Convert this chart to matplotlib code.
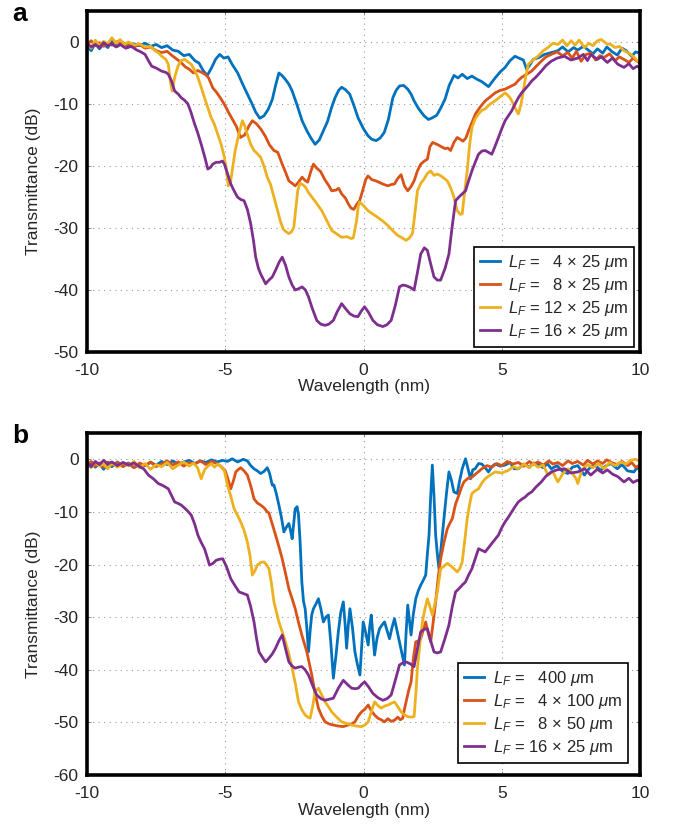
import matplotlib
matplotlib.use("Agg")
import matplotlib.pyplot as plt
import numpy as np

plt.rcParams["font.family"] = ["Liberation Sans", "DejaVu Sans"]
plt.rcParams["mathtext.fontset"] = "custom"
plt.rcParams["mathtext.rm"] = "Liberation Sans"
plt.rcParams["mathtext.it"] = "Liberation Sans:italic"

# (wavelength nm, transmittance dB)
a_4x25 = [(-10, -0.6), (-9.85, -1.4), (-9.7, -0.2), (-9.55, -1.1), (-9.4, -0.3), (-9.25, -0.9), (-9.1, 0.2),
          (-8.9, -0.7), (-8.7, -0.1), (-8.5, -0.8), (-8.3, -0.3), (-8.1, -0.6), (-7.9, -0.2), (-7.7, -0.7),
          (-7.5, -0.4), (-7.3, -0.9), (-7.1, -0.6), (-6.9, -1.3), (-6.7, -1.5), (-6.5, -2.2), (-6.3, -2.0),
          (-6.1, -3.0), (-5.95, -3.4), (-5.8, -4.6), (-5.65, -5.4), (-5.5, -4.2), (-5.35, -2.8), (-5.2, -2.0),
          (-5.05, -2.6), (-4.9, -2.4), (-4.75, -3.6), (-4.55, -5.0), (-4.35, -7.0), (-4.2, -8.4), (-4.05, -9.8),
          (-3.9, -11.3), (-3.75, -12.3), (-3.6, -11.9), (-3.45, -10.9), (-3.3, -9.3), (-3.18, -7.0), (-3.06, -5.0),
          (-2.95, -5.4), (-2.83, -6.0), (-2.7, -6.8), (-2.58, -7.9), (-2.4, -10.2), (-2.22, -12.7), (-2.05, -14.3),
          (-1.9, -15.5), (-1.75, -16.5), (-1.6, -15.8), (-1.45, -14.3), (-1.3, -12.8), (-1.15, -10.5), (-1.03, -9.0),
          (-0.9, -7.8), (-0.79, -7.3), (-0.65, -7.7), (-0.5, -8.4), (-0.35, -10.2), (-0.2, -12.2), (0.0, -14.0),
          (0.16, -15.1), (0.3, -15.7), (0.46, -15.9), (0.6, -15.5), (0.75, -14.6), (0.9, -12.5), (1.06, -9.0),
          (1.18, -7.8), (1.3, -7.1), (1.45, -7.0), (1.6, -7.6), (1.72, -8.4), (1.83, -9.5), (2.0, -10.8),
          (2.19, -11.9), (2.35, -12.5), (2.5, -12.2), (2.65, -11.8), (2.8, -10.6), (2.95, -9.2), (3.1, -7.0),
          (3.27, -5.4), (3.42, -5.8), (3.57, -5.2), (3.75, -5.9), (3.92, -5.5), (4.1, -6.0), (4.28, -6.4),
          (4.4, -6.8), (4.52, -7.2), (4.64, -6.5), (4.76, -5.8), (4.95, -4.8), (5.12, -4.1), (5.3, -3.0),
          (5.48, -2.3), (5.62, -2.6), (5.78, -2.9), (5.9, -4.4), (6.0, -3.8), (6.14, -2.8), (6.35, -2.5),
          (6.55, -2.0), (6.8, -1.7), (7.03, -1.4), (7.2, -0.8), (7.4, -1.6), (7.6, -0.9), (7.75, -1.3),
          (7.95, -0.7), (8.1, -1.2), (8.3, -1.9), (8.46, -1.1), (8.65, -1.8), (8.8, -0.8), (9.0, -1.6),
          (9.18, -2.1), (9.35, -1.0), (9.5, -1.4), (9.7, -2.3), (9.84, -1.6), (10, -1.8)]

a_8x25 = [(-10, -0.4), (-9.85, 0.2), (-9.7, -0.6), (-9.55, -0.1), (-9.4, -0.7), (-9.25, -0.2), (-9.1, -0.5),
          (-8.9, 0.1), (-8.7, -0.6), (-8.5, -0.3), (-8.3, -0.8), (-8.1, -0.4), (-7.9, -1.0), (-7.7, -0.8),
          (-7.5, -1.4), (-7.3, -1.7), (-7.1, -1.5), (-6.95, -2.1), (-6.8, -2.6), (-6.6, -3.3), (-6.45, -4.0),
          (-6.3, -4.4), (-6.15, -5.0), (-6.0, -4.6), (-5.85, -4.9), (-5.7, -5.3), (-5.6, -5.8), (-5.45, -7.4),
          (-5.3, -8.2), (-5.15, -9.2), (-5.0, -10.3), (-4.9, -11.2), (-4.75, -12.4), (-4.6, -13.6), (-4.45, -15.4),
          (-4.3, -15.0), (-4.15, -13.6), (-4.02, -12.7), (-3.87, -13.2), (-3.72, -14.0), (-3.55, -15.2),
          (-3.4, -16.6), (-3.24, -17.5), (-3.1, -17.8), (-2.94, -19.7), (-2.82, -21.0), (-2.7, -22.4),
          (-2.58, -22.8), (-2.47, -23.2), (-2.35, -22.6), (-2.22, -21.8), (-2.12, -22.3), (-2.02, -22.6),
          (-1.9, -20.8), (-1.81, -19.7), (-1.7, -20.3), (-1.55, -20.9), (-1.4, -22.2), (-1.25, -23.2),
          (-1.15, -24.0), (-1.0, -23.9), (-0.9, -23.6), (-0.79, -24.5), (-0.65, -25.2), (-0.55, -26.1),
          (-0.45, -26.8), (-0.35, -27.0), (-0.25, -26.2), (-0.14, -25.6), (-0.02, -23.8), (0.08, -22.2),
          (0.16, -21.6), (0.3, -22.2), (0.45, -22.4), (0.6, -22.7), (0.75, -23.0), (0.88, -23.2), (1.0, -23.0),
          (1.12, -22.9), (1.24, -22.0), (1.36, -21.4), (1.48, -23.2), (1.6, -24.0), (1.72, -23.3), (1.83, -22.4),
          (1.95, -20.8), (2.07, -19.7), (2.2, -19.2), (2.31, -18.9), (2.4, -16.9), (2.5, -16.2), (2.6, -16.4),
          (2.7, -16.6), (2.82, -16.9), (2.95, -17.2), (3.05, -17.1), (3.15, -17.5), (3.27, -16.2), (3.39, -15.4),
          (3.5, -15.7), (3.6, -16.0), (3.7, -15.5), (3.8, -14.3), (3.92, -13.0), (4.05, -11.6), (4.2, -10.6),
          (4.4, -9.5), (4.6, -8.8), (4.76, -8.2), (4.95, -7.8), (5.12, -7.6), (5.3, -7.2), (5.48, -6.8),
          (5.6, -6.2), (5.72, -5.7), (5.9, -5.2), (6.08, -4.7), (6.25, -3.9), (6.43, -3.1), (6.6, -2.4),
          (6.79, -2.0), (7.0, -1.6), (7.2, -2.2), (7.39, -1.7), (7.55, -2.6), (7.7, -1.5), (7.87, -3.1),
          (8.05, -2.0), (8.22, -1.8), (8.4, -2.9), (8.55, -2.2), (8.7, -2.5), (8.9, -1.9), (9.1, -3.0),
          (9.25, -2.4), (9.42, -2.8), (9.6, -3.3), (9.75, -2.6), (9.9, -3.1), (10, -3.4)]

a_12x25 = [(-10, -0.2), (-9.85, -1.0), (-9.7, 0.3), (-9.55, -0.6), (-9.4, 0.1), (-9.25, -0.3), (-9.1, 0.7),
           (-8.95, -0.2), (-8.8, 0.4), (-8.65, -0.4), (-8.5, 0.0), (-8.3, -0.5), (-8.1, -0.3), (-7.9, -0.8),
           (-7.7, -0.7), (-7.54, -1.4), (-7.4, -1.8), (-7.3, -2.3), (-7.15, -2.8), (-7.06, -3.6), (-6.98, -6.5),
           (-6.92, -7.9), (-6.83, -5.7), (-6.71, -3.9), (-6.6, -3.0), (-6.47, -2.8), (-6.35, -3.2), (-6.23, -3.6),
           (-6.1, -4.6), (-5.99, -5.7), (-5.87, -7.3), (-5.75, -9.0), (-5.63, -10.6), (-5.51, -12.2),
           (-5.4, -13.2), (-5.27, -14.9), (-5.15, -16.5), (-5.03, -18.6), (-4.95, -21.0), (-4.89, -23.2),
           (-4.81, -22.6), (-4.73, -20.2), (-4.64, -17.5), (-4.56, -15.9), (-4.47, -14.2), (-4.38, -12.7),
           (-4.3, -13.5), (-4.2, -14.9), (-4.08, -16.5), (-3.96, -17.5), (-3.84, -18.0), (-3.72, -18.6),
           (-3.6, -20.0), (-3.48, -21.8), (-3.36, -23.0), (-3.24, -25.0), (-3.12, -27.0), (-3.0, -29.0),
           (-2.9, -30.2), (-2.8, -30.6), (-2.7, -30.9), (-2.6, -30.6), (-2.52, -29.9), (-2.45, -27.0),
           (-2.38, -24.0), (-2.3, -22.8), (-2.2, -23.0), (-2.1, -23.4), (-2.0, -24.2), (-1.87, -25.0),
           (-1.7, -26.0), (-1.51, -27.2), (-1.35, -28.6), (-1.15, -30.4), (-0.95, -31.0), (-0.79, -31.5),
           (-0.6, -31.4), (-0.45, -31.7), (-0.37, -31.6), (-0.3, -30.0), (-0.25, -28.8), (-0.19, -26.5),
           (-0.14, -25.8), (0.0, -26.4), (0.16, -27.2), (0.35, -27.8), (0.52, -28.3), (0.7, -28.9), (0.88, -29.6),
           (1.05, -30.4), (1.24, -31.2), (1.4, -31.6), (1.54, -32.0), (1.66, -31.6), (1.77, -30.9), (1.85, -28.0),
           (1.95, -24.0), (2.07, -22.8), (2.19, -22.1), (2.31, -21.2), (2.43, -20.8), (2.55, -21.5), (2.67, -21.3),
           (2.8, -21.6), (2.92, -22.0), (3.03, -22.4), (3.15, -23.5), (3.27, -25.0), (3.39, -27.2), (3.5, -27.8),
           (3.57, -27.7), (3.65, -24.5), (3.75, -20.8), (3.84, -16.5), (3.92, -13.8), (4.04, -12.4),
           (4.16, -11.6), (4.28, -11.0), (4.4, -10.8), (4.58, -10.0), (4.76, -9.5), (4.95, -8.8), (5.12, -8.2),
           (5.22, -8.6), (5.3, -9.0), (5.4, -9.8), (5.48, -10.6), (5.6, -11.6), (5.7, -10.0), (5.78, -7.9),
           (5.87, -5.5), (5.96, -3.6), (6.1, -3.0), (6.31, -2.3), (6.5, -1.4), (6.67, -0.9), (6.85, -0.2),
           (7.03, -0.4), (7.2, 0.3), (7.35, -0.6), (7.51, 0.2), (7.65, -0.5), (7.8, 0.3), (7.99, -0.9),
           (8.15, -0.2), (8.3, -0.6), (8.46, 0.2), (8.6, 0.4), (8.8, -0.3), (8.94, -0.4), (9.1, -0.9),
           (9.25, -0.7), (9.42, -1.4), (9.6, -1.8), (9.75, -2.3), (9.9, -3.0), (10, -3.2)]

a_16x25 = [(-10, -0.2), (-9.85, -0.8), (-9.7, -0.4), (-9.55, -0.9), (-9.4, -0.1), (-9.25, -0.6), (-9.1, -0.3),
           (-8.95, -0.8), (-8.8, -0.4), (-8.6, -1.0), (-8.4, -0.7), (-8.2, -1.3), (-8.05, -1.6), (-7.9, -2.0),
           (-7.78, -3.0), (-7.66, -3.9), (-7.5, -4.2), (-7.3, -4.7), (-7.15, -4.9), (-7.06, -5.2), (-6.95, -6.2),
           (-6.83, -7.9), (-6.7, -8.4), (-6.59, -9.0), (-6.47, -9.4), (-6.35, -10.0), (-6.25, -11.2),
           (-6.11, -13.2), (-6.0, -14.6), (-5.87, -16.5), (-5.75, -18.4), (-5.63, -20.5), (-5.53, -20.2),
           (-5.45, -19.7), (-5.33, -19.4), (-5.21, -19.4), (-5.1, -19.2), (-5.03, -19.7), (-4.92, -21.2),
           (-4.8, -22.9), (-4.68, -24.0), (-4.56, -25.0), (-4.44, -25.4), (-4.32, -25.6), (-4.2, -27.0),
           (-4.08, -29.3), (-3.98, -32.0), (-3.9, -34.7), (-3.8, -36.5), (-3.72, -37.4), (-3.62, -38.3),
           (-3.54, -39.0), (-3.42, -38.4), (-3.3, -37.9), (-3.18, -36.8), (-3.05, -35.5), (-2.94, -34.7),
           (-2.82, -36.0), (-2.7, -37.9), (-2.58, -39.2), (-2.47, -40.0), (-2.35, -39.8), (-2.22, -39.5),
           (-2.1, -40.0), (-1.99, -41.1), (-1.85, -43.0), (-1.69, -44.9), (-1.55, -45.5), (-1.39, -45.7),
           (-1.25, -45.5), (-1.09, -44.9), (-0.95, -43.5), (-0.79, -42.2), (-0.65, -43.0), (-0.5, -43.8),
           (-0.35, -44.2), (-0.2, -44.3), (-0.08, -43.4), (0.04, -42.7), (0.18, -43.6), (0.34, -44.9),
           (0.5, -45.6), (0.7, -45.9), (0.85, -45.6), (1.0, -44.9), (1.15, -42.5), (1.3, -39.5), (1.42, -39.2),
           (1.54, -39.3), (1.7, -39.6), (1.83, -40.0), (1.95, -37.2), (2.07, -34.2), (2.2, -33.2), (2.31, -33.6),
           (2.43, -35.8), (2.55, -37.9), (2.67, -38.4), (2.79, -38.4), (2.95, -36.5), (3.09, -34.2),
           (3.2, -30.0), (3.33, -25.6), (3.45, -25.0), (3.57, -24.5), (3.69, -24.0), (3.8, -22.4), (3.92, -20.8),
           (4.04, -19.4), (4.16, -18.1), (4.28, -17.6), (4.4, -17.5), (4.52, -17.8), (4.64, -18.1), (4.76, -16.8),
           (4.88, -15.4), (5.0, -14.0), (5.12, -12.7), (5.24, -11.9), (5.36, -11.1), (5.48, -10.0), (5.6, -9.0),
           (5.72, -8.2), (5.84, -7.6), (5.96, -7.0), (6.08, -6.3), (6.25, -5.6), (6.43, -4.7), (6.6, -3.8),
           (6.79, -3.1), (7.0, -2.6), (7.27, -2.3), (7.5, -2.9), (7.75, -2.6), (7.95, -2.0), (8.1, -3.0),
           (8.22, -2.0), (8.45, -2.8), (8.6, -2.4), (8.82, -3.3), (9.0, -2.6), (9.2, -3.6), (9.42, -4.1),
           (9.6, -3.5), (9.75, -4.3), (9.9, -3.9), (10, -4.2)]

b_400 = [(-10, -1.6), (-9.85, -0.6), (-9.7, -1.5), (-9.55, -0.8), (-9.4, -1.9), (-9.25, -0.9), (-9.1, -1.4),
         (-8.9, -0.5), (-8.7, -1.3), (-8.5, -0.7), (-8.3, -1.6), (-8.1, -0.9), (-7.9, -1.2), (-7.7, -0.6),
         (-7.5, -1.1), (-7.3, -0.4), (-7.1, -1.0), (-6.9, -0.3), (-6.7, -0.9), (-6.5, -0.5), (-6.3, -0.2),
         (-6.1, -0.8), (-5.9, -0.3), (-5.7, -0.6), (-5.5, -0.1), (-5.3, -0.5), (-5.1, -0.2), (-4.92, -0.4),
         (-4.75, 0.1), (-4.55, -0.5), (-4.35, 0.0), (-4.2, -0.3), (-4.08, -1.2), (-3.96, -1.8), (-3.84, -2.2),
         (-3.72, -2.7), (-3.6, -2.3), (-3.48, -1.6), (-3.4, -2.6), (-3.3, -4.9), (-3.24, -4.9), (-3.15, -6.6),
         (-3.06, -8.7), (-2.97, -11.0), (-2.88, -13.8), (-2.8, -13.0), (-2.7, -12.2), (-2.64, -13.5),
         (-2.58, -15.1), (-2.52, -12.0), (-2.47, -9.4), (-2.4, -9.0), (-2.35, -10.6), (-2.29, -16.0),
         (-2.23, -23.3), (-2.17, -27.0), (-2.11, -28.4), (-2.05, -32.0), (-1.99, -36.6), (-1.92, -32.0),
         (-1.87, -29.5), (-1.81, -28.4), (-1.72, -27.5), (-1.63, -26.5), (-1.54, -28.5), (-1.45, -30.9),
         (-1.36, -30.0), (-1.27, -29.6), (-1.18, -35.0), (-1.09, -41.6), (-1.0, -37.5), (-0.91, -32.8),
         (-0.82, -29.0), (-0.73, -27.1), (-0.67, -31.0), (-0.61, -35.9), (-0.55, -31.5), (-0.49, -28.4),
         (-0.4, -32.0), (-0.31, -36.6), (-0.22, -39.0), (-0.13, -41.0), (-0.07, -36.0), (-0.01, -30.9),
         (0.08, -33.0), (0.17, -35.3), (0.22, -32.0), (0.28, -29.6), (0.34, -33.5), (0.4, -37.2), (0.49, -34.0),
         (0.58, -32.2), (0.67, -31.5), (0.76, -30.9), (0.85, -32.5), (0.94, -34.1), (1.03, -32.0), (1.12, -30.3),
         (1.21, -32.5), (1.3, -34.7), (1.39, -37.0), (1.48, -39.1), (1.54, -33.0), (1.6, -27.7), (1.66, -30.5),
         (1.72, -33.4), (1.8, -29.5), (1.89, -26.5), (1.98, -25.0), (2.07, -23.9), (2.16, -23.0), (2.25, -22.0),
         (2.31, -18.0), (2.37, -14.4), (2.43, -7.0), (2.49, -1.1), (2.55, -7.0), (2.61, -14.4), (2.67, -18.0),
         (2.73, -20.8), (2.82, -16.0), (2.91, -11.3), (3.0, -6.5), (3.09, -2.4), (3.18, -4.0), (3.27, -6.2),
         (3.39, -6.5), (3.48, -4.0), (3.57, -1.8), (3.69, 0.1), (3.78, -1.8), (3.87, -3.7), (3.95, -2.0),
         (4.04, -1.8), (4.16, -0.8), (4.28, -0.9), (4.4, -1.6), (4.52, -2.4), (4.64, -1.4), (4.76, -0.9),
         (4.95, -1.3), (5.12, -1.1), (5.3, -0.6), (5.45, -1.8), (5.6, -1.8), (5.8, -0.9), (6.0, -1.5),
         (6.15, -0.7), (6.31, -0.9), (6.5, -1.6), (6.65, -0.8), (6.79, -1.8), (7.0, -1.2), (7.2, -2.3),
         (7.39, -2.7), (7.55, -1.5), (7.75, -1.2), (7.99, -3.0), (8.15, -1.8), (8.35, -1.0), (8.58, -2.1),
         (8.75, -1.3), (8.95, -0.8), (9.18, -1.8), (9.35, -1.0), (9.55, -2.2), (9.78, -2.4), (9.9, -1.5),
         (10, -2.2)]

b_4x100 = [(-10, -1.0), (-9.85, -0.4), (-9.7, -1.3), (-9.55, -0.7), (-9.4, -1.5), (-9.25, -0.5), (-9.1, -1.1),
           (-8.9, -0.6), (-8.7, -1.4), (-8.5, -0.8), (-8.3, -1.6), (-8.1, -0.7), (-7.9, -1.2), (-7.7, -0.5),
           (-7.5, -1.4), (-7.3, -0.9), (-7.1, -0.3), (-6.9, -1.1), (-6.7, -0.5), (-6.5, -1.3), (-6.3, -0.6),
           (-6.1, -0.9), (-5.9, -0.3), (-5.7, -1.0), (-5.5, -0.4), (-5.3, -0.8), (-5.15, -1.4), (-5.0, -2.2),
           (-4.9, -3.8), (-4.8, -5.6), (-4.7, -4.0), (-4.62, -2.4), (-4.52, -1.9), (-4.44, -1.6), (-4.32, -2.2),
           (-4.2, -3.0), (-4.08, -5.0), (-3.96, -7.5), (-3.84, -8.3), (-3.72, -8.7), (-3.6, -9.2), (-3.48, -10.0),
           (-3.42, -10.2), (-3.3, -12.3), (-3.18, -14.4), (-3.06, -16.6), (-2.94, -18.9), (-2.82, -21.7),
           (-2.7, -24.6), (-2.58, -26.5), (-2.47, -28.4), (-2.35, -31.0), (-2.23, -33.4), (-2.14, -35.0),
           (-2.05, -36.6), (-1.96, -38.8), (-1.87, -41.0), (-1.75, -44.5), (-1.63, -47.3), (-1.51, -48.8),
           (-1.39, -49.9), (-1.24, -50.3), (-1.09, -50.5), (-0.91, -50.7), (-0.73, -50.8), (-0.55, -50.5),
           (-0.43, -50.3), (-0.31, -49.9), (-0.19, -48.8), (-0.07, -48.0), (0.05, -47.5), (0.17, -46.7),
           (0.28, -47.8), (0.4, -48.6), (0.52, -49.2), (0.64, -49.5), (0.76, -49.9), (0.88, -49.3), (1.0, -49.8),
           (1.12, -49.6), (1.24, -49.0), (1.33, -49.5), (1.42, -49.2), (1.48, -47.5), (1.54, -46.1),
           (1.63, -44.0), (1.72, -42.3), (1.8, -38.0), (1.89, -34.7), (1.98, -34.5), (2.07, -34.1),
           (2.16, -32.5), (2.25, -30.9), (2.34, -33.0), (2.43, -34.7), (2.52, -31.0), (2.61, -27.1),
           (2.7, -22.5), (2.79, -18.9), (2.91, -15.8), (3.03, -13.2), (3.12, -12.2), (3.21, -11.3), (3.33, -8.5),
           (3.45, -6.8), (3.54, -5.4), (3.63, -4.3), (3.78, -3.6), (3.92, -3.4), (4.1, -2.6), (4.28, -1.8),
           (4.46, -1.2), (4.64, -1.5), (4.82, -0.8), (5.0, -1.2), (5.2, -0.4), (5.4, -0.9), (5.6, -0.6),
           (5.8, -1.3), (6.0, -0.4), (6.15, -1.0), (6.31, -0.5), (6.5, -1.1), (6.7, -0.3), (6.85, -0.9),
           (7.03, -0.6), (7.2, -1.2), (7.4, -0.3), (7.55, -0.8), (7.75, -0.4), (7.95, -1.1), (8.1, -0.2),
           (8.3, -0.9), (8.46, -0.3), (8.65, -0.8), (8.8, -0.1), (9.0, -0.7), (9.18, -1.0), (9.35, -0.4),
           (9.55, -1.2), (9.7, -0.6), (9.84, -1.5), (10, -1.1)]

b_8x50 = [(-10, -0.8), (-9.85, -1.6), (-9.7, -0.5), (-9.55, -1.3), (-9.4, -0.9), (-9.25, -1.8), (-9.1, -0.7),
          (-8.9, -1.5), (-8.7, -0.6), (-8.5, -1.2), (-8.3, -0.4), (-8.1, -1.6), (-7.9, -0.8), (-7.7, -1.9),
          (-7.5, -1.0), (-7.3, -1.4), (-7.1, -0.6), (-6.9, -1.8), (-6.7, -1.1), (-6.5, -0.5), (-6.3, -1.3),
          (-6.15, -0.7), (-6.0, -1.6), (-5.87, -3.7), (-5.75, -2.0), (-5.63, -1.3), (-5.5, -0.8), (-5.39, -1.5),
          (-5.27, -0.9), (-5.15, -1.4), (-5.03, -2.2), (-4.92, -4.9), (-4.8, -7.0), (-4.68, -9.4), (-4.56, -10.6),
          (-4.44, -11.9), (-4.32, -13.5), (-4.2, -15.7), (-4.1, -18.5), (-4.02, -22.0), (-3.93, -21.2),
          (-3.84, -20.1), (-3.72, -19.6), (-3.6, -19.5), (-3.51, -20.0), (-3.42, -20.8), (-3.33, -23.5),
          (-3.24, -27.1), (-3.15, -29.0), (-3.06, -30.9), (-2.94, -32.8), (-2.82, -34.7), (-2.7, -37.0),
          (-2.58, -39.7), (-2.46, -42.8), (-2.35, -46.1), (-2.23, -47.6), (-2.11, -48.6), (-2.02, -49.0),
          (-1.93, -49.2), (-1.84, -47.0), (-1.75, -44.2), (-1.63, -43.5), (-1.51, -44.8), (-1.39, -46.1),
          (-1.27, -47.0), (-1.15, -48.0), (-0.97, -49.0), (-0.79, -49.9), (-0.61, -50.2), (-0.43, -50.5),
          (-0.25, -50.7), (-0.07, -50.8), (0.05, -50.5), (0.17, -49.9), (0.28, -48.0), (0.4, -46.1),
          (0.52, -46.8), (0.64, -47.3), (0.76, -46.9), (0.88, -46.7), (1.0, -46.4), (1.12, -46.1), (1.24, -47.0),
          (1.36, -48.0), (1.48, -48.6), (1.6, -48.9), (1.72, -49.0), (1.83, -48.9), (1.9, -44.0), (1.95, -39.7),
          (2.04, -35.0), (2.13, -30.9), (2.22, -28.5), (2.31, -26.5), (2.4, -28.0), (2.49, -29.6), (2.58, -27.5),
          (2.67, -25.2), (2.73, -23.0), (2.79, -20.8), (2.91, -20.3), (3.03, -19.8), (3.15, -20.2),
          (3.27, -20.8), (3.39, -21.4), (3.48, -20.8), (3.57, -19.5), (3.66, -15.5), (3.75, -11.3), (3.84, -8.5),
          (3.92, -6.5), (4.04, -6.0), (4.16, -5.6), (4.28, -4.5), (4.4, -3.7), (4.58, -3.0), (4.76, -2.4),
          (5.0, -2.6), (5.24, -2.1), (5.42, -1.4), (5.6, -1.8), (5.8, -0.9), (6.0, -1.6), (6.15, -0.8),
          (6.31, -1.5), (6.5, -1.1), (6.67, -3.0), (6.85, -2.4), (7.03, -4.3), (7.2, -2.8), (7.39, -1.8),
          (7.55, -2.6), (7.7, -3.8), (7.75, -4.6), (7.9, -2.0), (8.11, -1.0), (8.3, -1.6), (8.5, -0.8),
          (8.7, -1.8), (8.9, -0.6), (9.1, -1.2), (9.3, -0.5), (9.5, -0.9), (9.65, -0.2), (9.84, 0.0), (10, -0.4)]

b_16x25 = [(-10, -0.6), (-9.85, -1.4), (-9.7, -0.4), (-9.55, -1.0), (-9.4, -0.2), (-9.25, -0.9), (-9.1, -0.5),
           (-8.9, -1.2), (-8.7, -0.6), (-8.5, -1.1), (-8.3, -0.7), (-8.1, -1.4), (-7.95, -1.8), (-7.78, -3.0),
           (-7.6, -3.7), (-7.42, -4.6), (-7.25, -5.0), (-7.06, -5.6), (-6.95, -6.8), (-6.83, -8.1), (-6.7, -8.4),
           (-6.59, -8.7), (-6.4, -9.6), (-6.23, -10.6), (-6.1, -12.4), (-5.99, -14.4), (-5.87, -15.8),
           (-5.75, -17.0), (-5.66, -18.5), (-5.57, -20.1), (-5.45, -19.8), (-5.33, -19.2), (-5.21, -19.0),
           (-5.09, -18.9), (-4.95, -20.5), (-4.8, -22.7), (-4.65, -24.0), (-4.5, -25.2), (-4.35, -25.5),
           (-4.2, -25.8), (-4.08, -28.0), (-3.96, -30.9), (-3.87, -34.0), (-3.78, -36.6), (-3.66, -37.6),
           (-3.54, -38.5), (-3.42, -37.8), (-3.3, -37.0), (-3.18, -35.9), (-3.06, -34.5), (-2.94, -33.4),
           (-2.82, -36.0), (-2.7, -38.5), (-2.58, -39.3), (-2.47, -39.7), (-2.35, -39.5), (-2.23, -39.4),
           (-2.11, -40.0), (-1.99, -41.0), (-1.84, -43.0), (-1.69, -44.8), (-1.54, -45.5), (-1.39, -45.8),
           (-1.24, -45.6), (-1.09, -45.4), (-0.91, -43.5), (-0.73, -42.0), (-0.58, -42.8), (-0.43, -43.5),
           (-0.3, -43.6), (-0.19, -43.5), (-0.07, -42.8), (0.04, -42.3), (0.19, -43.3), (0.34, -44.5),
           (0.52, -45.3), (0.7, -45.8), (0.85, -45.5), (1.0, -44.8), (1.15, -42.0), (1.3, -39.1), (1.42, -38.7),
           (1.54, -38.5), (1.7, -38.9), (1.83, -39.4), (1.95, -36.0), (2.07, -32.8), (2.19, -32.3), (2.31, -32.2),
           (2.43, -34.5), (2.55, -36.6), (2.67, -36.8), (2.79, -36.6), (2.95, -34.0), (3.09, -31.5), (3.21, -28.0),
           (3.33, -25.2), (3.45, -24.6), (3.57, -23.9), (3.69, -23.3), (3.8, -22.0), (3.92, -20.8), (4.04, -18.9),
           (4.16, -17.0), (4.28, -17.3), (4.4, -17.6), (4.52, -16.8), (4.64, -16.0), (4.76, -15.2), (4.88, -14.4),
           (5.0, -13.0), (5.12, -11.9), (5.24, -11.0), (5.36, -10.0), (5.48, -9.0), (5.6, -8.1), (5.72, -7.6),
           (5.84, -7.2), (5.96, -6.6), (6.08, -6.2), (6.25, -5.2), (6.43, -4.3), (6.6, -3.2), (6.79, -2.4),
           (7.0, -2.0), (7.27, -1.8), (7.5, -2.6), (7.75, -2.4), (8.0, -1.8), (8.22, -3.0), (8.45, -1.9),
           (8.65, -2.6), (8.82, -2.0), (9.0, -2.8), (9.2, -3.3), (9.42, -4.3), (9.6, -3.6), (9.75, -4.4),
           (9.9, -4.0), (10, -4.2)]

labels_a = [r"$L_F$ =   4 $\times$ 25 $\mu$m", r"$L_F$ =   8 $\times$ 25 $\mu$m",
            r"$L_F$ = 12 $\times$ 25 $\mu$m", r"$L_F$ = 16 $\times$ 25 $\mu$m"]
labels_b = [r"$L_F$ =   400 $\mu$m", r"$L_F$ =   4 $\times$ 100 $\mu$m",
            r"$L_F$ =   8 $\times$ 50 $\mu$m", r"$L_F$ = 16 $\times$ 25 $\mu$m"]
colors = ["#0072BD", "#D95319", "#EDB120", "#7E2F8E"]
xticks = [-10, -5, 0, 5, 10]
yticks_a = [-50, -40, -30, -20, -10, 0]
yticks_b = [-60, -50, -40, -30, -20, -10, 0]

text_col = "#262626"
fig = plt.figure(figsize=(6.76, 8.27), dpi=100)
ax_a = fig.add_axes([87 / 676, 1 - 352 / 827, 553 / 676, 341 / 827])
ax_b = fig.add_axes([87 / 676, 1 - 775 / 827, 553 / 676, 342 / 827])


def style(ax, yticks, ylim):
    ax.set_xlim(-10, 10)
    ax.set_ylim(*ylim)
    ax.set_xticks(xticks)
    ax.set_yticks(yticks)
    ax.set_xticklabels([str(t) for t in xticks])
    ax.set_yticklabels([str(t) for t in yticks])
    ax.grid(True, linestyle=(0, (1, 4)), color="#9a9a9a", linewidth=0.8)
    ax.tick_params(direction="in", length=3, width=0.6, color="#777777",
                   labelsize=12.5, labelcolor=text_col, top=True, right=True)
    ax.tick_params(axis="x", pad=8)
    ax.tick_params(axis="y", pad=6)
    for sp in ax.spines.values():
        sp.set_linewidth(2.6)
        sp.set_color("black")
    ax.set_xlabel("Wavelength (nm)", fontsize=12.5, color=text_col, labelpad=1)
    ax.set_ylabel("Transmittance (dB)", fontsize=12.5, color=text_col, labelpad=9)


for data, c, lab in zip([a_4x25, a_8x25, a_12x25, a_16x25], colors, labels_a):
    x, y = np.array(data).T
    ax_a.plot(x, y, color=c, lw=2.0, label=lab)
style(ax_a, yticks_a, (-50, 5))
leg = ax_a.legend(loc="lower right", bbox_to_anchor=(0.989, 0.015), borderaxespad=0,
                  fontsize=12, handlelength=1.2, handletextpad=0.5, labelspacing=0.25,
                  borderpad=0.35, fancybox=False, framealpha=1, edgecolor="black")
leg.get_frame().set_linewidth(1.2)
for t in leg.get_texts():
    t.set_color(text_col)

for data, c, lab in zip([b_400, b_4x100, b_8x50, b_16x25], colors, labels_b):
    x, y = np.array(data).T
    ax_b.plot(x, y, color=c, lw=2.0, label=lab)
style(ax_b, yticks_b, (-60, 5))
leg = ax_b.legend(loc="lower right", bbox_to_anchor=(0.978, 0.035), borderaxespad=0,
                  fontsize=12, handlelength=1.2, handletextpad=0.5, labelspacing=0.25,
                  borderpad=0.35, fancybox=False, framealpha=1, edgecolor="black")
leg.get_frame().set_linewidth(1.2)
for t in leg.get_texts():
    t.set_color(text_col)

fig.text(12 / 676, 1 - 14 / 827, "a", fontsize=19, fontweight="bold", va="center", ha="left")
fig.text(12 / 676, 1 - 436 / 827, "b", fontsize=19, fontweight="bold", va="center", ha="left")

fig.savefig("out.png", dpi=100)
